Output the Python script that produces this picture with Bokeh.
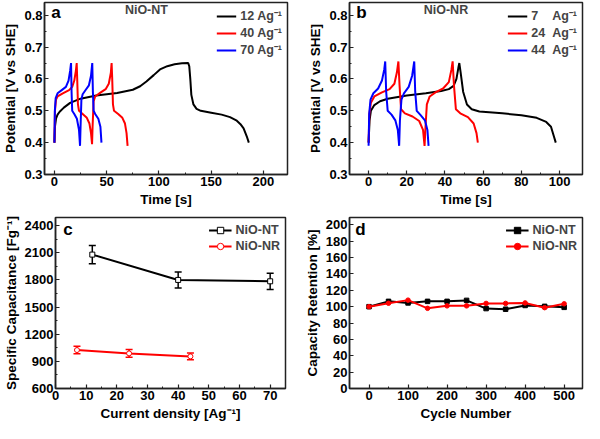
from bokeh.plotting import figure
from bokeh.layouts import column, row
from bokeh.models import FixedTicker, Label, Whisker, ColumnDataSource, TeeHead, Range1d, NumeralTickFormatter
from bokeh.embed import file_html
from bokeh.resources import INLINE

FONT = "Liberation Sans"
RED = "#ff0000"
BLUE = "#0000ff"

# ---------------- Panel a: NiO-NT charge/discharge ----------------
a12_t = [0, 0.5, 1.5, 3, 5, 9, 15, 25, 40, 60, 75, 82, 88, 95, 101, 108, 115, 122, 128, 129, 130, 131, 133, 136, 140, 150, 160, 168, 174, 178, 181, 184, 186]
a12_v = [0.40, 0.45, 0.475, 0.488, 0.497, 0.51, 0.525, 0.538, 0.548, 0.556, 0.566, 0.577, 0.592, 0.612, 0.630, 0.640, 0.646, 0.649, 0.650, 0.64, 0.60, 0.55, 0.52, 0.506, 0.500, 0.494, 0.488, 0.480, 0.470, 0.458, 0.445, 0.42, 0.40]
a40_t = [0, 0.5, 1.5, 3, 8, 14, 17, 19, 20.5, 21.3, 21.8, 22.5, 23.5, 27, 31, 33.5, 35, 36, 36.5, 37.5, 39, 44, 49, 52, 54, 54.7, 55.3, 56, 57, 61, 65, 67.5, 69, 70]
a40_v = [0.40, 0.50, 0.535, 0.545, 0.555, 0.565, 0.575, 0.595, 0.625, 0.65, 0.60, 0.52, 0.50, 0.49, 0.478, 0.46, 0.43, 0.395, 0.45, 0.53, 0.545, 0.557, 0.568, 0.585, 0.62, 0.65, 0.60, 0.52, 0.50, 0.49, 0.478, 0.46, 0.43, 0.39]
a70_t = [0, 0.4, 1.2, 3, 7, 11, 13.5, 15, 15.9, 16.4, 17, 19, 21.5, 23.5, 24.5, 25, 25.8, 27, 30, 33, 35, 36.2, 36.8, 37.5, 39, 42, 44, 45]
a70_v = [0.40, 0.50, 0.54, 0.555, 0.565, 0.575, 0.595, 0.625, 0.65, 0.56, 0.50, 0.49, 0.475, 0.44, 0.39, 0.45, 0.535, 0.552, 0.566, 0.58, 0.61, 0.65, 0.56, 0.50, 0.49, 0.475, 0.45, 0.40]

# ---------------- Panel b: NiO-NR charge/discharge ----------------
b7_t = [0, 0.5, 1.2, 3, 6, 10, 20, 30, 38, 42, 44.5, 46, 47, 47.5, 48.2, 49.5, 51.5, 54, 58, 70, 80, 88, 93, 95.5, 97, 98]
b7_v = [0.40, 0.47, 0.50, 0.518, 0.53, 0.538, 0.548, 0.555, 0.562, 0.568, 0.578, 0.60, 0.635, 0.65, 0.62, 0.56, 0.52, 0.505, 0.498, 0.492, 0.486, 0.478, 0.465, 0.45, 0.42, 0.40]
b24_t = [0, 0.4, 1.2, 3, 7, 11, 13.5, 14.8, 15.6, 16.2, 17, 19, 23, 26.5, 28.5, 29.3, 29.8, 30.5, 32, 35, 39, 42, 43.4, 44, 44.7, 45.7, 48, 52, 55, 56.5, 57.2]
b24_v = [0.40, 0.49, 0.525, 0.545, 0.558, 0.568, 0.585, 0.62, 0.655, 0.58, 0.505, 0.492, 0.482, 0.468, 0.44, 0.39, 0.45, 0.52, 0.545, 0.558, 0.57, 0.59, 0.63, 0.655, 0.58, 0.505, 0.492, 0.48, 0.46, 0.43, 0.40]
b44_t = [0, 0.3, 1, 2.5, 5, 7, 8.2, 8.7, 9.2, 10, 12, 14, 15.3, 16, 16.4, 17.2, 18.5, 21, 22.8, 23.9, 24.4, 25.2, 27, 29.5, 30.8, 31.4]
b44_v = [0.39, 0.49, 0.535, 0.555, 0.57, 0.595, 0.63, 0.655, 0.56, 0.50, 0.488, 0.47, 0.44, 0.39, 0.47, 0.535, 0.555, 0.575, 0.61, 0.655, 0.56, 0.50, 0.488, 0.47, 0.44, 0.39]

# ---------------- Panel c: specific capacitance ----------------
c_nt_x = [12, 40, 70]
c_nt_y = [2080, 1800, 1785]
c_nt_err = [100, 88, 90]
c_nr_x = [7, 24, 44]
c_nr_y = [1025, 988, 955]
c_nr_err = [42, 42, 38]

# ---------------- Panel d: capacity retention ----------------
d_cycles = [0, 50, 100, 150, 200, 250, 300, 350, 400, 450, 500]
d_nt = [100, 106.5, 104.6, 106.5, 106.5, 107.7, 97.7, 96.9, 101.5, 100.4, 99.2]
d_nr = [100, 104.2, 108, 98, 101, 101, 104, 104, 104.6, 98.8, 103.5]

# tick values
a_xticks = [0, 50, 100, 150, 200]
a_xminor = [25, 75, 125, 175]
b_xticks = [0, 20, 40, 60, 80, 100]
b_xminor = [10, 30, 50, 70, 90]
ab_yticks = [0.3, 0.4, 0.5, 0.6, 0.7, 0.8]
ab_yminor = [0.35, 0.45, 0.55, 0.65, 0.75]
c_xticks = [0, 10, 20, 30, 40, 50, 60, 70]
c_xminor = [5, 15, 25, 35, 45, 55, 65]
c_yticks = [600, 900, 1200, 1500, 1800, 2100, 2400]
c_yminor = [750, 1050, 1350, 1650, 1950, 2250]
d_xticks = [0, 100, 200, 300, 400, 500]
d_xminor = [50, 150, 250, 350, 450]
d_yticks = [0, 20, 40, 60, 80, 100, 120, 140, 160, 180, 200]


def make_fig(w, h, xr, yr, bl, br, bt, bb, xlabel, ylabel, xt, xm, yt, ym):
    p = figure(width=w, height=h, x_range=Range1d(*xr), y_range=Range1d(*yr),
               output_backend="svg", toolbar_location=None,
               min_border_left=bl, min_border_right=br, min_border_top=bt, min_border_bottom=bb)
    p.grid.visible = False
    p.outline_line_color = "#222222"
    p.outline_line_width = 1.5
    p.outline_line_alpha = 1
    p.xaxis.ticker = FixedTicker(ticks=xt, minor_ticks=xm)
    p.yaxis.ticker = FixedTicker(ticks=yt, minor_ticks=ym)
    p.xaxis.axis_label = xlabel
    p.yaxis.axis_label = ylabel
    for ax in (p.xaxis, p.yaxis):
        ax.axis_line_color = "#222222"
        ax.axis_line_width = 1.5
        ax.major_tick_in = 4
        ax.major_tick_out = 0
        ax.minor_tick_in = 2
        ax.minor_tick_out = 0
        ax.major_tick_line_width = 1.2
        ax.major_tick_line_color = "#222222"
        ax.minor_tick_line_color = "#222222"
        ax.major_label_text_font = FONT
        ax.major_label_text_font_style = "bold"
        ax.major_label_text_font_size = "13px"
        ax.major_label_text_color = "black"
        ax.major_label_standoff = 2
        ax.axis_label_text_font = FONT
        ax.axis_label_text_font_style = "bold"
        ax.axis_label_text_font_size = "13.5px"
        ax.axis_label_text_color = "black"
        ax.axis_label_standoff = 3
    return p


def style_legend(p, gw, lh):
    lg = p.legend[0]
    lg.location = "top_right"
    lg.border_line_alpha = 0
    lg.background_fill_alpha = 0
    lg.label_text_font = FONT
    lg.label_text_font_style = "bold"
    lg.label_text_font_size = "12.5px"
    lg.label_height = lh
    lg.glyph_height = lh
    lg.glyph_width = gw
    lg.spacing = 0
    lg.padding = 2
    lg.margin = 3
    lg.label_standoff = 4


def panel_text(p, x, y, txt, size):
    p.add_layout(Label(x=x, y=y, text=txt, text_font=FONT, text_font_style="bold",
                       text_font_size=size, text_color="black", text_baseline="middle",
                       text_align="left"))


# Panel a
pa = make_fig(292, 212, (-9.5, 223), (0.3, 0.84), 43, 5, 2, 38,
              "Time [s]", "Potential [V vs SHE]", a_xticks, a_xminor, ab_yticks, ab_yminor)
pa.yaxis.formatter = NumeralTickFormatter(format="0.0")
pa.line(a12_t, a12_v, line_color="black", line_width=2, legend_label="12 Ag\u207b\u00b9")
pa.line(a40_t, a40_v, line_color=RED, line_width=2, legend_label="40 Ag\u207b\u00b9")
pa.line(a70_t, a70_v, line_color=BLUE, line_width=2, legend_label="70 Ag\u207b\u00b9")
style_legend(pa, 20, 12)
panel_text(pa, -3, 0.81, "a", "17px")
pa.add_layout(Label(x=88, y=0.815, text="NiO-NT", text_font=FONT, text_font_style="bold",
                    text_font_size="12.5px", text_align="center", text_baseline="middle"))

# Panel b
pb = make_fig(292, 212, (-10, 112), (0.3, 0.84), 57, 2, 2, 38,
              "Time [s]", "Potential [V vs SHE]", b_xticks, b_xminor, ab_yticks, ab_yminor)
pb.yaxis.formatter = NumeralTickFormatter(format="0.0")
pb.line(b7_t, b7_v, line_color="black", line_width=2, legend_label="7\u2007\u00a0\u00a0Ag\u207b\u00b9")
pb.line(b24_t, b24_v, line_color=RED, line_width=2, legend_label="24\u00a0\u00a0Ag\u207b\u00b9")
pb.line(b44_t, b44_v, line_color=BLUE, line_width=2, legend_label="44\u00a0\u00a0Ag\u207b\u00b9")
style_legend(pb, 20, 12)
panel_text(pb, -6.5, 0.81, "b", "17px")
pb.add_layout(Label(x=40.5, y=0.815, text="NiO-NR", text_font=FONT, text_font_style="bold",
                    text_font_size="12.5px", text_align="center", text_baseline="middle"))

# Panel c
pc = make_fig(292, 211, (0, 75), (600, 2490), 43, 7, 5, 31,
              "Current density [Ag\u207b\u00b9]", "Specific Capacitance [Fg\u207b\u00b9]",
              c_xticks, c_xminor, c_yticks, c_yminor)
for xs, ys, es, col, mk, lbl in ((c_nt_x, c_nt_y, c_nt_err, "black", "square", "NiO-NT"),
                                 (c_nr_x, c_nr_y, c_nr_err, RED, "circle", "NiO-NR")):
    src = ColumnDataSource(dict(x=xs, y=ys,
                                upper=[y + e for y, e in zip(ys, es)],
                                lower=[y - e for y, e in zip(ys, es)]))
    pc.add_layout(Whisker(source=src, base="x", upper="upper", lower="lower",
                          line_color=col, line_width=1.5,
                          upper_head=TeeHead(size=7, line_color=col, line_width=1.5),
                          lower_head=TeeHead(size=7, line_color=col, line_width=1.5)))
    pc.line("x", "y", source=src, line_color=col, line_width=2, legend_label=lbl)
    pc.scatter("x", "y", source=src, marker=mk, size=5, line_color=col, fill_color="white",
               line_width=1, legend_label=lbl)
style_legend(pc, 23, 16)
panel_text(pc, 2.5, 2360, "c", "17px")

# Panel d
pd_ = make_fig(292, 211, (-50, 547), (0, 209), 57, 2, 5, 31,
               "Cycle Number", "Capacity Retention [%]", d_xticks, d_xminor, d_yticks, [])
pd_.line(d_cycles, d_nt, line_color="black", line_width=2, legend_label="NiO-NT")
pd_.scatter(d_cycles, d_nt, marker="square", size=4.5, color="black", legend_label="NiO-NT")
pd_.line(d_cycles, d_nr, line_color=RED, line_width=2, legend_label="NiO-NR")
pd_.scatter(d_cycles, d_nr, marker="circle", size=4.5, color=RED, legend_label="NiO-NR")
style_legend(pd_, 23, 16)
panel_text(pd_, -35, 194, "d", "17px")

layout = column(row(pa, pb), row(pc, pd_))
open("out.html", "w").write(file_html(layout, INLINE))
